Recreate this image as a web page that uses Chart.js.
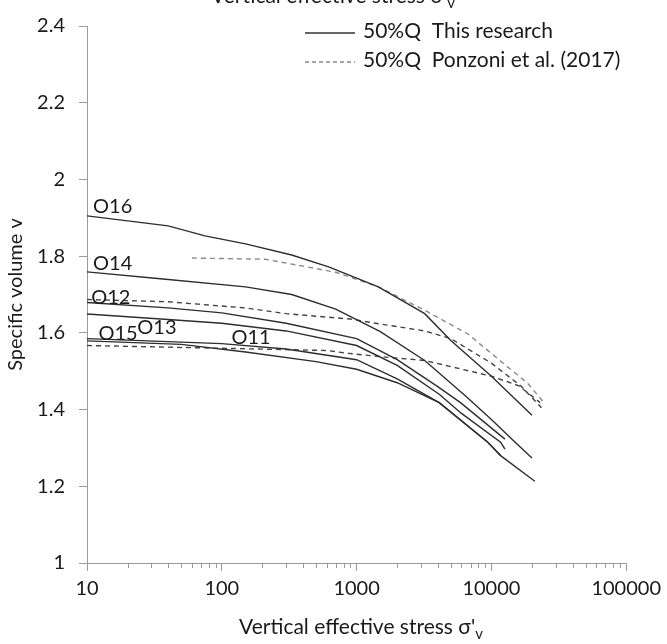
<!DOCTYPE html>
<html>
<head>
<meta charset="utf-8">
<script src="https://cdn.jsdelivr.net/npm/chart.js@4"></script>
<style>
  html, body { margin: 0; padding: 0; background: #fff; }
  canvas { display: block; }
</style>
</head>
<body>
<canvas id="chart" width="667" height="644"></canvas>
<script>
// 50%Q curves, this research (stress in kPa, specific volume)
const o16Stress = [10, 40, 75, 150, 330, 620, 1450, 3200, 5000, 10000, 20000];
const o16V = [1.905, 1.879, 1.853, 1.832, 1.803, 1.772, 1.720, 1.650, 1.580, 1.487, 1.385];
const o14Stress = [10, 35, 150, 330, 700, 1500, 3200, 6400, 10000, 15000, 20000];
const o14V = [1.759, 1.741, 1.720, 1.700, 1.662, 1.603, 1.528, 1.436, 1.374, 1.315, 1.274];
const o12Stress = [10, 40, 100, 300, 1000, 2000, 4000, 5900, 12600];
const o12V = [1.679, 1.665, 1.652, 1.625, 1.585, 1.530, 1.460, 1.418, 1.323];
const o13Stress = [10, 40, 100, 300, 1000, 2000, 4100, 6000, 11700, 12600];
const o13V = [1.649, 1.635, 1.625, 1.605, 1.567, 1.515, 1.440, 1.390, 1.315, 1.297];
const o11Stress = [10, 100, 300, 1000, 2000, 4100, 9400, 11700];
const o11V = [1.585, 1.572, 1.558, 1.530, 1.480, 1.418, 1.315, 1.280];
const o15Stress = [10, 50, 150, 500, 1000, 2000, 4100, 9400, 11700, 21000];
const o15V = [1.579, 1.570, 1.550, 1.525, 1.505, 1.470, 1.418, 1.315, 1.280, 1.213];

// 50%Q curves, Ponzoni et al. (2017)
const p16Stress = [60, 210, 700, 1450, 3200, 6700, 13000, 18500, 25000];
const p16V = [1.795, 1.792, 1.758, 1.720, 1.659, 1.597, 1.513, 1.469, 1.415];
const p12Stress = [10, 40, 150, 300, 900, 1500, 3200, 5000, 10000, 16500, 23500];
const p12V = [1.687, 1.681, 1.665, 1.650, 1.636, 1.623, 1.605, 1.585, 1.521, 1.462, 1.405];
const p15Stress = [10, 130, 600, 900, 1500, 3200, 10000, 16000, 23000];
const p15V = [1.567, 1.559, 1.554, 1.546, 1.538, 1.528, 1.487, 1.462, 1.418];

const curveNames = ['O16', 'O14', 'O12', 'O13', 'O15', 'O11'];
const nameStress = [15.5, 15.5, 15, 33, 17, 165];
const nameV = [1.928, 1.781, 1.692, 1.615, 1.597, 1.587];

const xTicks = [10, 100, 1000, 10000, 100000];
const yTicks = [1, 1.2, 1.4, 1.6, 1.8, 2, 2.2, 2.4];
const legendNames = ['50%Q  This research', '50%Q  Ponzoni et al. (2017)'];
const xTitle = 'Vertical effective stress \u03c3\'';
const xTitleSub = 'v';

const FONT = 'Lato, "Open Sans", sans-serif';
const TEXT = '#1a1a1a';
const AXIS = '#9a9a9a';

function pts(xs, ys) {
    return xs.map((x, i) => ({ x: x, y: ys[i] }));
}

function solid(xs, ys) {
    return { data: pts(xs, ys), borderColor: '#2e2e2e', borderWidth: 1.4, pointRadius: 0, tension: 0, fill: false };
}

function dashed(xs, ys, color) {
    return { data: pts(xs, ys), borderColor: color, borderWidth: 1.4, borderDash: [5, 4], pointRadius: 0, tension: 0, fill: false };
}

function drawTitle(ctx, cx, baseline) {
    ctx.save();
    ctx.fillStyle = TEXT;
    ctx.textBaseline = 'alphabetic';
    ctx.font = '21px ' + FONT;
    const w1 = ctx.measureText(xTitle).width;
    ctx.font = '15px ' + FONT;
    const w2 = ctx.measureText(xTitleSub).width;
    const left = cx - (w1 + w2) / 2;
    ctx.font = '21px ' + FONT;
    ctx.textAlign = 'left';
    ctx.fillText(xTitle, left, baseline);
    ctx.font = '15px ' + FONT;
    ctx.fillText(xTitleSub, left + w1, baseline + 5);
    ctx.restore();
}

const extras = {
    id: 'extras',
    afterDraw(chart) {
        const ctx = chart.ctx;
        const xs = chart.scales.x, ys = chart.scales.y;
        const bottom = chart.chartArea.bottom;

        // minor ticks on the log axis
        ctx.save();
        ctx.strokeStyle = AXIS;
        ctx.lineWidth = 1;
        for (let d = 10; d < 100000; d *= 10) {
            for (let m = 2; m <= 9; m++) {
                const px = Math.round(xs.getPixelForValue(d * m)) + 0.5;
                ctx.beginPath();
                ctx.moveTo(px, bottom);
                ctx.lineTo(px, bottom + 5);
                ctx.stroke();
            }
        }
        ctx.restore();

        // curve names
        ctx.save();
        ctx.font = '20px ' + FONT;
        ctx.fillStyle = TEXT;
        ctx.textAlign = 'center';
        ctx.textBaseline = 'middle';
        curveNames.forEach((n, i) => {
            ctx.fillText(n, xs.getPixelForValue(nameStress[i]), ys.getPixelForValue(nameV[i]));
        });
        ctx.restore();

        // legend
        ctx.save();
        ctx.font = '21px ' + FONT;
        ctx.fillStyle = TEXT;
        ctx.textBaseline = 'middle';
        ctx.lineWidth = 1.6;
        ctx.strokeStyle = '#333';
        ctx.beginPath();
        ctx.moveTo(305, 33); ctx.lineTo(355, 33);
        ctx.stroke();
        ctx.fillText(legendNames[0], 363, 31);
        ctx.strokeStyle = '#888';
        ctx.setLineDash([4, 3]);
        ctx.beginPath();
        ctx.moveTo(305, 62); ctx.lineTo(355, 62);
        ctx.stroke();
        ctx.fillText(legendNames[1], 363, 60);
        ctx.restore();

        // axis titles: bottom and the clipped copy at the top
        drawTitle(ctx, 361, 634);
        drawTitle(ctx, 333, 3);
    }
};

new Chart(document.getElementById('chart'), {
    type: 'line',
    data: {
        datasets: [
            solid(o16Stress, o16V),
            solid(o14Stress, o14V),
            solid(o12Stress, o12V),
            solid(o13Stress, o13V),
            solid(o11Stress, o11V),
            solid(o15Stress, o15V),
            dashed(p16Stress, p16V, '#8a8a8a'),
            dashed(p12Stress, p12V, '#444'),
            dashed(p15Stress, p15V, '#444')
        ]
    },
    options: {
        responsive: false,
        animation: false,
        layout: { padding: { top: 17, right: 38, left: 0, bottom: 0 } },
        plugins: {
            legend: { display: false },
            tooltip: { enabled: false }
        },
        scales: {
            x: {
                type: 'logarithmic',
                min: 10,
                max: 100000,
                afterBuildTicks: s => { s.ticks = xTicks.map(v => ({ value: v })); },
                afterFit: s => { s.height = 81; },
                ticks: {
                    callback: v => String(v),
                    color: TEXT,
                    font: { family: FONT, size: 20 },
                    maxRotation: 0,
                    autoSkip: false,
                    padding: 6
                },
                grid: { drawOnChartArea: false, tickLength: 8, color: AXIS },
                border: { color: AXIS, width: 1 }
            },
            y: {
                type: 'linear',
                min: 1,
                max: 2.4,
                afterBuildTicks: s => { s.ticks = yTicks.map(v => ({ value: v })); },
                afterFit: s => { s.width = 87; },
                ticks: {
                    callback: v => String(+v.toFixed(1)),
                    color: TEXT,
                    font: { family: FONT, size: 20 },
                    padding: 14
                },
                grid: { drawOnChartArea: false, tickLength: 8, color: AXIS },
                border: { color: AXIS, width: 1 },
                title: {
                    display: true,
                    text: 'Specific volume v',
                    color: TEXT,
                    font: { family: FONT, size: 20 },
                    padding: { top: 4, bottom: 0 }
                }
            }
        }
    },
    plugins: [extras]
});
</script>
</body>
</html>
